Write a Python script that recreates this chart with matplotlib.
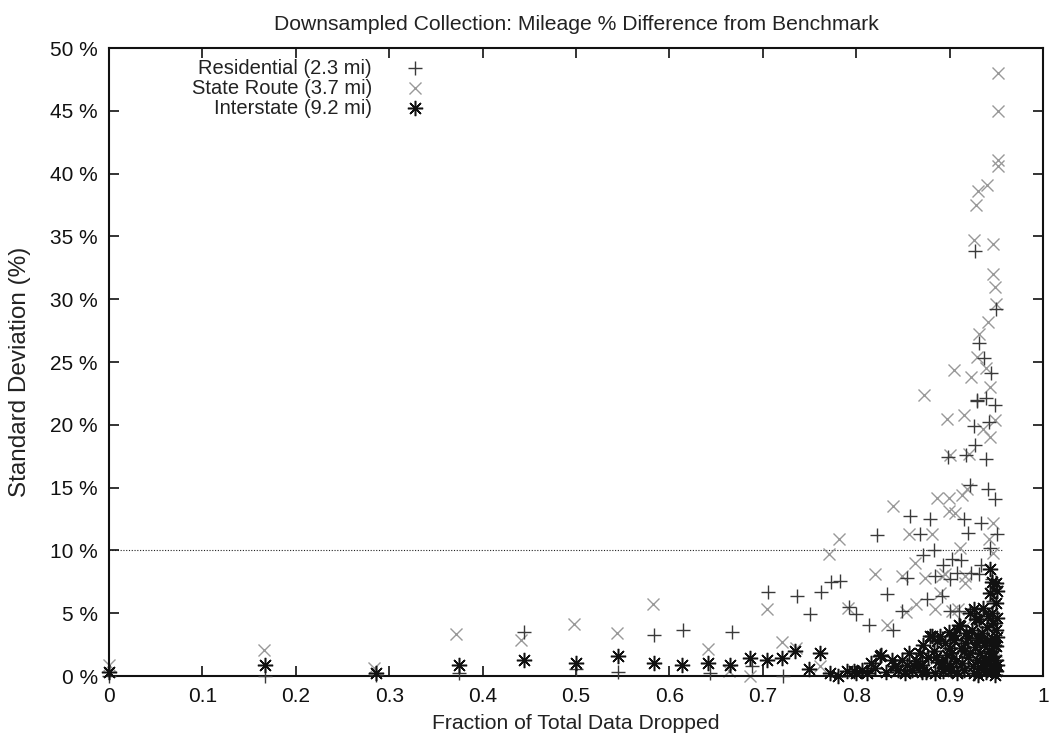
import matplotlib
matplotlib.use("Agg")
import matplotlib.pyplot as plt
from matplotlib.ticker import FixedLocator

plt.rcParams['font.family'] = ['Liberation Sans', 'DejaVu Sans']

# ---------------- data ----------------
res_x = [0.0, 0.167, 0.286, 0.375, 0.444, 0.5, 0.545, 0.583, 0.615, 0.643, 0.667, 0.688,
         0.706, 0.722, 0.737, 0.75, 0.762, 0.773, 0.783, 0.792, 0.8, 0.814, 0.822, 0.833,
         0.839, 0.849, 0.854, 0.858, 0.868, 0.872, 0.876, 0.879, 0.883, 0.884, 0.892, 0.893,
         0.898, 0.9, 0.903, 0.908, 0.91, 0.912, 0.915, 0.918, 0.92, 0.922, 0.923, 0.926,
         0.927, 0.927, 0.929, 0.929, 0.931, 0.932, 0.934, 0.934, 0.937, 0.939, 0.939, 0.941,
         0.942, 0.943, 0.944, 0.945, 0.947, 0.949, 0.949, 0.95, 0.951, 0.95, 0.9, 0.93,
         0.945, 0.88, 0.915]
res_y = [0.0, 0.0, 0.1, 0.2, 3.5, 0.55, 0.3, 3.3, 3.7, 0.25, 3.5, 0.8,
         6.7, 0.0, 6.4, 4.95, 6.7, 7.5, 7.6, 5.5, 4.9, 4.1, 11.2, 6.5,
         3.7, 5.2, 7.8, 12.7, 11.3, 9.6, 6.1, 12.5, 10.0, 8.0, 6.4, 8.8,
         17.4, 5.2, 9.3, 8.2, 5.2, 9.2, 12.5, 17.6, 11.4, 15.2, 8.2, 19.9,
         18.4, 33.8, 21.9, 22.0, 26.5, 8.1, 12.2, 8.8, 25.3, 17.3, 22.1, 14.9,
         20.2, 10.2, 24.1, 7.7, 6.0, 21.6, 14.1, 29.2, 11.3, 7.2, 7.7, 3.0,
         2.0, 1.5, 0.6]

sr_x = [0.0, 0.166, 0.284, 0.372, 0.441, 0.498, 0.544, 0.582, 0.641, 0.664, 0.686, 0.705,
        0.721, 0.736, 0.761, 0.771, 0.782, 0.791, 0.82, 0.833, 0.839, 0.849, 0.853, 0.857,
        0.863, 0.864, 0.873, 0.874, 0.881, 0.884, 0.886, 0.89, 0.892, 0.895, 0.897, 0.899,
        0.899, 0.9, 0.903, 0.905, 0.906, 0.909, 0.911, 0.913, 0.915, 0.916, 0.917, 0.919,
        0.921, 0.923, 0.926, 0.928, 0.929, 0.93, 0.931, 0.936, 0.939, 0.94, 0.941, 0.942,
        0.943, 0.943, 0.946, 0.946, 0.947, 0.947, 0.949, 0.949, 0.95, 0.952, 0.952, 0.952,
        0.952, 0.87, 0.9, 0.935, 0.95, 0.925, 0.945, 0.86, 0.938]
sr_y = [0.9, 2.1, 0.6, 3.35, 2.9, 4.15, 3.4, 5.75, 2.15, 0.4, 0.0, 5.35,
        2.7, 2.2, 0.8, 9.7, 10.9, 5.4, 8.1, 4.05, 13.5, 8.0, 5.1, 11.3,
        9.0, 5.7, 22.4, 7.8, 11.3, 5.3, 14.2, 6.6, 8.0, 8.1, 20.5, 14.2,
        13.1, 17.6, 5.2, 24.4, 13.0, 5.3, 10.2, 14.4, 20.8, 7.4, 8.0, 14.9,
        17.7, 23.8, 34.7, 37.5, 25.4, 38.6, 27.2, 19.7, 24.5, 39.1, 28.2, 10.9,
        23.0, 19.0, 34.4, 32.0, 12.2, 9.8, 31.0, 20.4, 29.6, 48.0, 45.0, 41.1,
        40.6, 1.0, 0.5, 3.5, 2.0, 4.6, 6.3, 0.7, 1.2]

int_x = [0.0, 0.167, 0.286, 0.375, 0.444, 0.5, 0.545, 0.583, 0.614, 0.641, 0.665, 0.686,
         0.705, 0.721, 0.735, 0.749, 0.761, 0.772, 0.781, 0.79, 0.798, 0.8, 0.806, 0.812,
         0.816, 0.82, 0.825, 0.827, 0.832, 0.838, 0.842, 0.845, 0.849, 0.852, 0.854, 0.857,
         0.86, 0.864, 0.868, 0.87, 0.872, 0.875, 0.877, 0.879, 0.881, 0.883, 0.884, 0.886,
         0.888, 0.89, 0.892, 0.893, 0.895, 0.897, 0.899, 0.9, 0.902, 0.902, 0.905, 0.907,
         0.908, 0.91, 0.911, 0.912, 0.913, 0.915, 0.917, 0.918, 0.92, 0.922, 0.922, 0.924,
         0.925, 0.926, 0.926, 0.927, 0.928, 0.929, 0.93, 0.931, 0.932, 0.933, 0.934, 0.935,
         0.936, 0.937, 0.938, 0.939, 0.94, 0.94, 0.941, 0.942, 0.943, 0.943, 0.944, 0.945,
         0.945, 0.946, 0.947, 0.947, 0.948, 0.949, 0.95, 0.95, 0.95, 0.95, 0.95, 0.95,
         0.951, 0.951, 0.951, 0.951, 0.885, 0.895, 0.905, 0.915, 0.92, 0.93, 0.935, 0.94,
         0.945, 0.87, 0.862, 0.9]
int_y = [0.3, 0.9, 0.2, 0.9, 1.3, 1.0, 1.6, 1.0, 0.9, 1.0, 0.9, 1.4,
         1.3, 1.4, 2.0, 0.55, 1.8, 0.25, 0.0, 0.4, 0.4, 0.25, 0.5, 0.2,
         1.0, 0.6, 1.6, 1.7, 0.3, 1.3, 0.8, 0.5, 1.3, 0.2, 0.9, 1.8,
         0.5, 1.2, 1.8, 0.9, 2.5, 0.3, 1.5, 3.2, 3.2, 2.0, 0.25, 2.8,
         1.1, 3.2, 1.0, 0.4, 2.6, 1.7, 3.5, 0.8, 1.8, 0.5, 2.9, 1.2,
         0.2, 4.1, 4.0, 2.2, 1.0, 0.5, 2.6, 3.4, 1.5, 5.0, 1.8, 3.7,
         0.8, 0.25, 5.3, 2.3, 4.5, 1.3, 0.1, 4.5, 2.9, 1.8, 0.6, 3.4,
         5.4, 2.5, 1.2, 0.3, 3.9, 0.5, 4.8, 2.0, 8.5, 6.6, 1.5, 5.0,
         3.0, 0.8, 1.6, 4.2, 2.5, 0.1, 7.4, 5.8, 3.7, 2.4, 1.3, 0.4,
         6.8, 4.6, 3.1, 0.9, 1.5, 0.7, 3.3, 2.0, 3.0, 3.0, 1.0, 2.8,
         7.5, 0.3, 0.8, 2.2]

legend_labels = ["Residential (2.3 mi)", "State Route (3.7 mi)", "Interstate (9.2 mi)"]
xticks = [0, 0.1, 0.2, 0.3, 0.4, 0.5, 0.6, 0.7, 0.8, 0.9, 1.0]
xtick_labels = ["0", "0.1", "0.2", "0.3", "0.4", "0.5", "0.6", "0.7", "0.8", "0.9", "1"]
yticks = [0, 5, 10, 15, 20, 25, 30, 35, 40, 45, 50]
ytick_labels = ["%d %%" % v for v in yticks]
threshold = 10

# ---------------- figure ----------------
fig = plt.figure(figsize=(10.49, 7.44), dpi=100)
ax = fig.add_axes([109/1049, 68/744, (1043-109)/1049, (676-48)/744])

c_res = "#3a3a3a"
c_sr = "#999999"
c_int = "#111111"
star = (8, 2, 0)
styles = [("+", c_res, 9.5, 1.0), ("x", c_sr, 8.5, 1.0), (star, c_int, 11, 1.1)]

ax.hlines(threshold, 0, 0.957, colors="#222222", linestyles=(0, (1, 1.5)), linewidth=0.8, zorder=1)

for (xs, ys), (m, c, s, mew), z in zip([(res_x, res_y), (sr_x, sr_y), (int_x, int_y)], styles, [3, 2, 4]):
    ax.plot(xs, ys, linestyle="none", marker=m, color=c, markersize=s,
            markeredgewidth=mew, zorder=z, clip_on=False)

ax.set_xlim(0, 1)
ax.set_ylim(0, 50)
ax.xaxis.set_major_locator(FixedLocator(xticks))
ax.yaxis.set_major_locator(FixedLocator(yticks))
ax.set_xticklabels(xtick_labels)
ax.set_yticklabels(ytick_labels)
ax.tick_params(direction="in", length=7, width=1.2, top=True, right=True, labelsize=15, pad=8, colors="#111111")
for s in ax.spines.values():
    s.set_linewidth(1.5)
    s.set_color("#111111")

ax.set_xlabel("Fraction of Total Data Dropped", fontsize=15.2, labelpad=6, color="#222222")
ax.set_ylabel("Standard Deviation (%)", fontsize=17.5, color="#222222")
ax.yaxis.set_label_coords(-0.0835, 0.484)
ax.set_title("Downsampled Collection: Mileage % Difference from Benchmark", fontsize=15.2, pad=13, color="#222222")

# gnuplot-style key: right-aligned text, marker at right
ky = [0.968, 0.936, 0.904]
for lbl, yy, (m, c, s, mew) in zip(legend_labels, ky, styles):
    ax.text(0.2816, yy, lbl, transform=ax.transAxes, ha="right", va="center", fontsize=14.5, color="#222222")
    ax.plot([0.3276], [yy], transform=ax.transAxes, marker=m, color=c, markersize=s, markeredgewidth=mew, linestyle="none")

fig.savefig("out.png", dpi=100)
